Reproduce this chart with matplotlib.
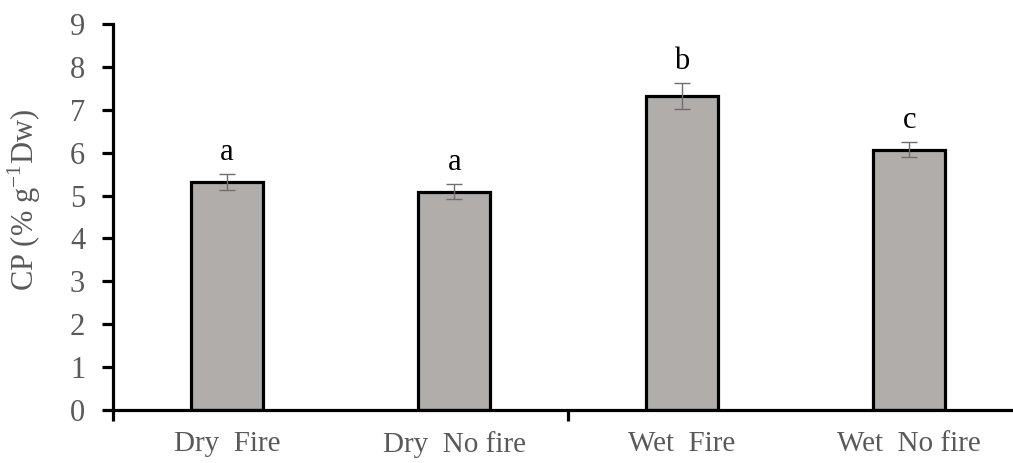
import numpy as np
import matplotlib.pyplot as plt

# values
treatments = ['Dry  Fire', 'Dry  No fire', 'Wet  Fire', 'Wet  No fire']
cp_means = [5.32, 5.09, 7.32, 6.07]
cp_errors = [0.18, 0.17, 0.31, 0.18]
letters = ['a', 'a', 'b', 'c']

plt.rcParams['font.family'] = ['Liberation Serif', 'DejaVu Serif']

grey_text = '#595959'

fig = plt.figure(figsize=(10.13, 4.63), dpi=100)
# right edge runs slightly past the figure, like the cropped original
ax = fig.add_axes([113 / 1013, 53 / 463, 910 / 1013, 386 / 463])

x = np.arange(len(treatments))
ax.bar(x, cp_means, width=0.315, color='#b0adab', edgecolor='black', linewidth=2.3, zorder=2)
ax.errorbar(x, cp_means, yerr=cp_errors, fmt='none', ecolor='#6e6e6e', elinewidth=1.0,
            capsize=6, capthick=1.0, zorder=3)

for xi, m, e, letter in zip(x, cp_means, cp_errors, letters):
    ax.text(xi, m + e + 0.5, letter, ha='center', va='center', fontsize=22, color='black')

ax.set_xlim(-0.5, 3.5)
ax.set_ylim(0, 9)
ax.set_yticks(np.arange(0, 10, 1))

# ticks at group boundaries, labels centred under the bars
ax.set_xticks([-0.5, 1.5, 3.5])
ax.set_xticklabels([])
ax.set_xticks(x, minor=True)
ax.set_xticklabels(treatments, minor=True)
ax.tick_params(axis='x', which='major', direction='out', length=8, width=2.3, color='black')
ax.tick_params(axis='x', which='minor', length=0, pad=15, labelsize=21, labelcolor=grey_text)
ax.tick_params(axis='y', direction='out', length=8, width=2.3, pad=12, labelsize=22,
               labelcolor=grey_text)

for side in ['top', 'right']:
    ax.spines[side].set_visible(False)
for side in ['left', 'bottom']:
    ax.spines[side].set_linewidth(2.3)
    ax.spines[side].set_color('black')

ax.set_ylabel('CP (% g$^{\\mathregular{-1}}$Dw)', fontsize=22, color=grey_text)
ax.yaxis.set_label_coords(-0.077, 0.544)

fig.savefig('out.png', dpi=100)
